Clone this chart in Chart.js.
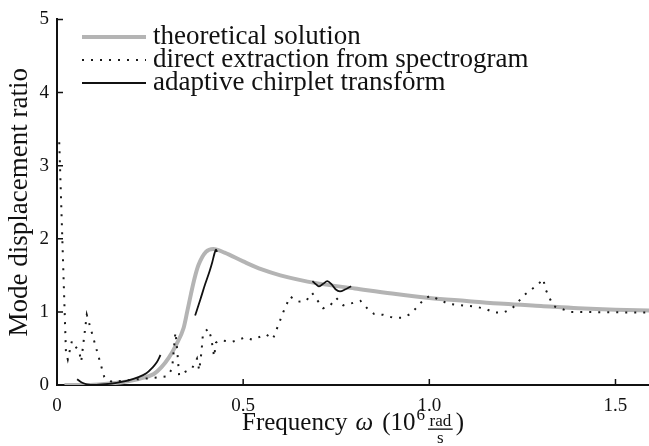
<!DOCTYPE html>
<html>
<head>
<meta charset="utf-8">
<script src="https://cdn.jsdelivr.net/npm/chart.js@4.4.0/dist/chart.umd.min.js"></script>
<style>
  html, body { margin: 0; padding: 0; background: #fff; }
  #wrap { width: 649px; height: 446px; position: relative; }
</style>
</head>
<body>
<div id="wrap"><canvas id="modeChart"></canvas></div>
<script>
const seriesLabels = ['theoretical solution', 'direct extraction from spectrogram', 'adaptive chirplet transform'];
const xTicks = [0, 0.5, 1, 1.5];
const yTicks = [0, 1, 2, 3, 4, 5];

// theoretical curve (grey)
const theoryFreq = [0.02, 0.08, 0.14, 0.18, 0.21, 0.24, 0.26, 0.28, 0.30, 0.32, 0.34, 0.35, 0.36, 0.37, 0.38, 0.40, 0.42, 0.45, 0.50, 0.55, 0.60, 0.70, 0.80, 0.90, 1.00, 1.10, 1.20, 1.30, 1.40, 1.50, 1.59];
const theoryRatio = [0.00, 0.00, 0.02, 0.04, 0.07, 0.11, 0.15, 0.24, 0.37, 0.55, 0.78, 1.01, 1.25, 1.47, 1.64, 1.82, 1.86, 1.81, 1.69, 1.58, 1.50, 1.39, 1.32, 1.25, 1.19, 1.15, 1.11, 1.08, 1.05, 1.03, 1.02];

// direct extraction from spectrogram (dotted)
const spectroFreq = [0.006, 0.024, 0.029, 0.040, 0.060, 0.065, 0.080, 0.127, 0.148, 0.196, 0.245, 0.296, 0.309, 0.312, 0.318, 0.321, 0.324, 0.328, 0.344, 0.363, 0.376, 0.382, 0.388, 0.392, 0.406, 0.414, 0.422, 0.427, 0.438, 0.470, 0.505, 0.524, 0.562, 0.580, 0.608, 0.626, 0.648, 0.669, 0.685, 0.699, 0.715, 0.734, 0.750, 0.769, 0.793, 0.815, 0.833, 0.852, 0.876, 0.903, 0.927, 0.949, 0.968, 0.987, 1.003, 1.051, 1.126, 1.151, 1.175, 1.199, 1.223, 1.255, 1.293, 1.306, 1.312, 1.333, 1.379, 1.590];
const spectroRatio = [3.32, 0.45, 0.35, 0.60, 0.45, 0.32, 0.96, 0.11, 0.04, 0.07, 0.09, 0.12, 0.22, 0.38, 0.72, 0.58, 0.40, 0.13, 0.18, 0.23, 0.36, 0.20, 0.45, 0.70, 0.77, 0.65, 0.39, 0.58, 0.61, 0.59, 0.65, 0.62, 0.69, 0.63, 1.00, 1.21, 1.14, 1.15, 1.26, 1.16, 1.05, 1.09, 1.19, 1.09, 1.12, 1.15, 1.05, 0.97, 0.96, 0.92, 0.92, 0.97, 1.07, 1.18, 1.22, 1.11, 1.07, 1.04, 0.99, 0.99, 1.05, 1.23, 1.38, 1.45, 1.31, 1.08, 1.00, 0.99];

// adaptive chirplet transform (solid, three pieces split by null)
const chirpletFreq = [0.054, 0.068, 0.080, 0.100, 0.130, 0.160, 0.190, 0.215, 0.240, 0.255, 0.268, 0.278, null,
  0.371, 0.385, 0.398, 0.410, 0.417, 0.423, 0.427, 0.430, null,
  0.686, 0.695, 0.703, 0.714, 0.726, 0.737, 0.748, 0.760, 0.775, 0.790];
const chirpletRatio = [0.08, 0.03, 0.01, 0.00, 0.01, 0.03, 0.06, 0.10, 0.16, 0.23, 0.31, 0.41, null,
  0.95, 1.17, 1.38, 1.56, 1.68, 1.80, 1.85, 1.82, null,
  1.42, 1.38, 1.35, 1.38, 1.42, 1.38, 1.31, 1.28, 1.31, 1.35];

const toPoints = (xs, ys) => xs.map((x, i) => ({ x: x, y: ys[i] }));

const serif = "'Liberation Serif', 'DejaVu Serif', serif";

const figureExtras = {
    id: 'figureExtras',
    afterDraw(chart) {
        const ctx = chart.ctx;
        const xs = chart.scales.x;
        const ys = chart.scales.y;
        const area = chart.chartArea;
        ctx.save();

        // inward tick marks
        ctx.strokeStyle = '#111';
        ctx.lineWidth = 1.5;
        ctx.beginPath();
        xTicks.forEach(v => {
            if (v === 0) return;
            const px = xs.getPixelForValue(v);
            ctx.moveTo(px, area.bottom);
            ctx.lineTo(px, area.bottom - 6);
        });
        yTicks.forEach(v => {
            if (v === 0) return;
            const py = ys.getPixelForValue(v);
            ctx.moveTo(area.left, py);
            ctx.lineTo(area.left + 6, py);
        });
        ctx.stroke();

        // legend
        const rows = [37, 60, 83];
        chart.data.datasets.forEach((ds, i) => {
            const y = rows[i];
            ctx.beginPath();
            ctx.strokeStyle = ds.borderColor;
            ctx.lineWidth = ds.borderWidth;
            ctx.setLineDash(ds.borderDash || []);
            ctx.lineCap = 'butt';
            ctx.moveTo(82, y);
            ctx.lineTo(146, y);
            ctx.stroke();
            ctx.setLineDash([]);
            ctx.fillStyle = '#111';
            ctx.font = '27px ' + serif;
            ctx.textBaseline = 'alphabetic';
            ctx.textAlign = 'left';
            ctx.fillText(ds.label, 153, y + 7);
        });

        // x axis title with fraction
        const base = 430;
        const big = '25px ' + serif;
        const bigIt = 'italic 25px ' + serif;
        const small = '17px ' + serif;
        ctx.font = small;
        const fracW = ctx.measureText('rad').width + 3;
        const parts = [
            { t: 'Frequency', f: big, gap: 8 },
            { t: '\u03c9', f: bigIt, gap: 9 },
            { t: '(10', f: big, gap: 1 },
            { t: '6', f: small, sup: true, gap: 3 },
            { t: 'frac', gap: 3 },
            { t: ')', f: big, gap: 0 }
        ];
        let total = 0;
        parts.forEach(p => {
            if (p.t === 'frac') { p.w = fracW; }
            else { ctx.font = p.f; p.w = ctx.measureText(p.t).width; }
            total += p.w + p.gap;
        });
        let x = (area.left + area.right) / 2 - total / 2;
        ctx.fillStyle = '#111';
        ctx.textAlign = 'left';
        parts.forEach(p => {
            if (p.t === 'frac') {
                const cx = x + p.w / 2;
                ctx.font = small;
                ctx.textAlign = 'center';
                ctx.fillText('rad', cx, base - 4);
                ctx.fillText('s', cx, base + 13);
                ctx.textAlign = 'left';
                ctx.fillRect(x, base - 1.5, fracW, 1.3);
            } else {
                ctx.font = p.f;
                ctx.fillText(p.t, x, p.sup ? base - 10 : base);
            }
            x += p.w + p.gap;
        });
        ctx.restore();
    }
};

const ctx = document.getElementById('modeChart').getContext('2d');
const modeChart = new Chart(ctx, {
    type: 'line',
    data: {
        datasets: [
            {
                label: seriesLabels[0],
                data: toPoints(theoryFreq, theoryRatio),
                borderColor: '#b4b4b4',
                borderWidth: 4,
                pointRadius: 0,
                cubicInterpolationMode: 'monotone',
                order: 3
            },
            {
                label: seriesLabels[1],
                data: toPoints(spectroFreq, spectroRatio),
                borderColor: '#1a1a1a',
                borderWidth: 2,
                borderDash: [2, 7],
                borderCapStyle: 'butt',
                pointRadius: 0,
                tension: 0,
                order: 2
            },
            {
                label: seriesLabels[2],
                data: toPoints(chirpletFreq, chirpletRatio),
                borderColor: '#111',
                borderWidth: 1.8,
                pointRadius: 0,
                spanGaps: false,
                cubicInterpolationMode: 'monotone',
                order: 1
            }
        ]
    },
    options: {
        responsive: true,
        maintainAspectRatio: false,
        animation: false,
        layout: { padding: { top: 15, right: 0, left: 0, bottom: 0 } },
        plugins: {
            legend: { display: false },
            tooltip: { enabled: false }
        },
        scales: {
            x: {
                type: 'linear',
                min: 0,
                max: 1.59,
                afterBuildTicks: s => { s.ticks = xTicks.map(v => ({ value: v })); },
                afterFit: s => { s.height = 61; },
                grid: { display: false, drawTicks: false },
                border: { display: true, color: '#111', width: 2 },
                ticks: {
                    padding: 10,
                    color: '#111',
                    font: { family: serif, size: 19 },
                    maxRotation: 0
                }
            },
            y: {
                type: 'linear',
                min: 0,
                max: 5,
                afterBuildTicks: s => { s.ticks = yTicks.map(v => ({ value: v })); },
                afterFit: s => { s.width = 57; },
                grid: { display: false, drawTicks: false },
                border: { display: true, color: '#111', width: 2 },
                ticks: {
                    padding: 8,
                    color: '#111',
                    font: { family: serif, size: 19 }
                },
                title: {
                    display: true,
                    text: 'Mode displacement ratio',
                    color: '#111',
                    font: { family: serif, size: 27 },
                    padding: { top: 4, bottom: 0 }
                }
            }
        }
    },
    plugins: [figureExtras]
});
</script>
</body>
</html>
